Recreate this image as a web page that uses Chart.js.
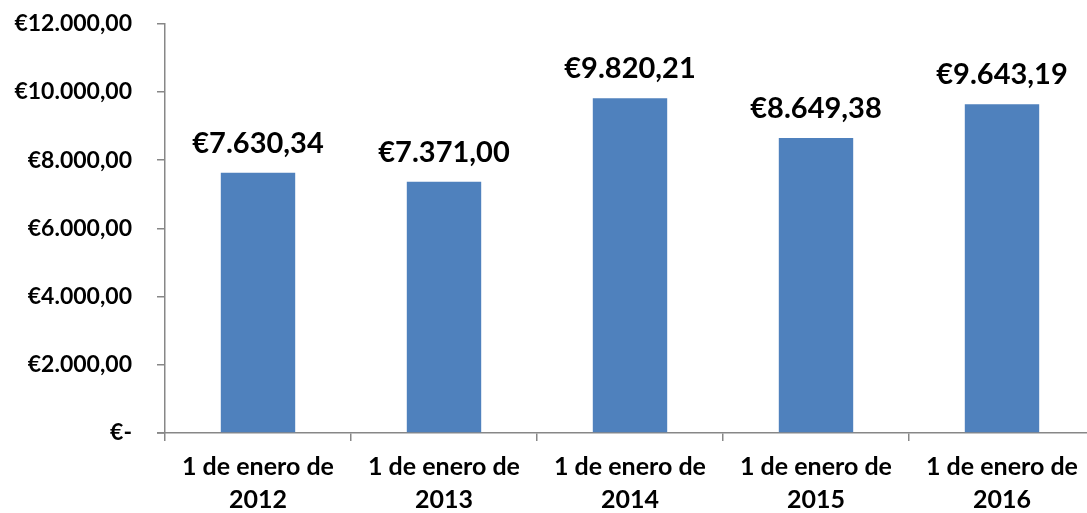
<!DOCTYPE html>
<html>
<head>
<meta charset="utf-8">
<script src="https://cdn.jsdelivr.net/npm/chart.js@4"></script>
<style>
  html, body { margin: 0; padding: 0; background: #fff; overflow: hidden; }
  #wrap { width: 1095px; height: 528px; margin-top: -15px; }
</style>
</head>
<body>
<div id="wrap"><canvas id="chart"></canvas></div>
<script>
// datos
const categorias = [
    ['1 de enero de', '2012'],
    ['1 de enero de', '2013'],
    ['1 de enero de', '2014'],
    ['1 de enero de', '2015'],
    ['1 de enero de', '2016']
];
const importes = [7630.34, 7371.00, 9820.21, 8649.38, 9643.19];
const yMax = 12000;
const yPaso = 2000;

function euro(v) {
    if (v === 0) return '€-';
    const partes = v.toFixed(2).split('.');
    const entero = partes[0].replace(/\B(?=(\d{3})+(?!\d))/g, '.');
    return '€' + entero + ',' + partes[1];
}

const ejeColor = '#878787';
const fuente = 'Lato, "Open Sans", sans-serif';

// etiquetas encima de las barras
const etiquetas = {
    id: 'etiquetas',
    afterDatasetsDraw(chart) {
        const ctx = chart.ctx;
        const meta = chart.getDatasetMeta(0);
        ctx.save();
        ctx.font = 'bold 29px ' + fuente;
        ctx.fillStyle = '#000';
        ctx.textAlign = 'center';
        ctx.textBaseline = 'bottom';
        meta.data.forEach((bar, i) => {
            ctx.fillText(euro(importes[i]), bar.x, bar.y - 15);
        });
        ctx.restore();
    }
};

// prolongar el eje x hacia la izquierda (como en Excel)
const ejeExtra = {
    id: 'ejeExtra',
    afterDraw(chart) {
        const ctx = chart.ctx;
        const a = chart.chartArea;
        ctx.save();
        ctx.strokeStyle = ejeColor;
        ctx.lineWidth = 1.5;
        ctx.beginPath();
        ctx.moveTo(a.left - 8, a.bottom);
        ctx.lineTo(a.left, a.bottom);
        ctx.stroke();
        ctx.restore();
    }
};

new Chart(document.getElementById('chart'), {
    type: 'bar',
    data: {
        labels: categorias,
        datasets: [{
            data: importes,
            backgroundColor: '#4F81BD',
            barPercentage: 0.4,
            categoryPercentage: 1.0
        }]
    },
    options: {
        responsive: true,
        maintainAspectRatio: false,
        animation: false,
        layout: { padding: 0 },
        plugins: {
            legend: { display: false },
            tooltip: { enabled: false }
        },
        scales: {
            x: {
                grid: {
                    drawOnChartArea: false,
                    drawTicks: true,
                    tickLength: 8,
                    color: ejeColor,
                    lineWidth: 1.5,
                    offset: true
                },
                border: { color: ejeColor, width: 1.5 },
                ticks: {
                    color: '#000',
                    font: { family: fuente, size: 25, weight: 'bold', lineHeight: 1.32 },
                    padding: 9,
                    maxRotation: 0,
                    autoSkip: false
                },
                afterFit(scale) { scale.height = 80; }
            },
            y: {
                min: 0,
                max: yMax,
                grid: {
                    drawOnChartArea: false,
                    drawTicks: true,
                    tickLength: 8,
                    color: ejeColor,
                    lineWidth: 1.5
                },
                border: { color: ejeColor, width: 1.5 },
                ticks: {
                    stepSize: yPaso,
                    color: '#000',
                    font: { family: fuente, size: 23, weight: 'bold' },
                    padding: 25,
                    callback: (v) => euro(v)
                },
                afterFit(scale) { scale.width = 165; }
            }
        }
    },
    plugins: [etiquetas, ejeExtra]
});
</script>
</body>
</html>
